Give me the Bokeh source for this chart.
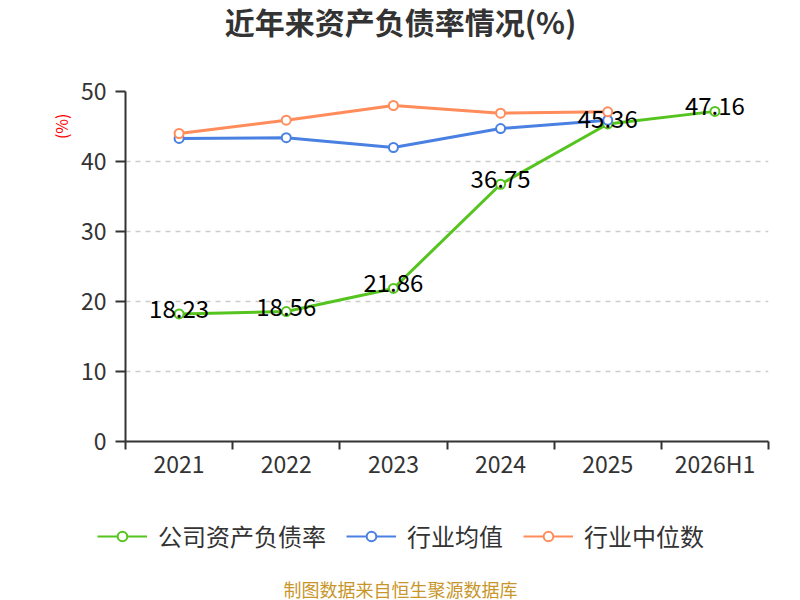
from bokeh.plotting import figure
from bokeh.layouts import column, row
from bokeh.models import (ColumnDataSource, Range1d, FixedTicker, Legend, LegendItem,
                          Title, Label, Spacer)
from bokeh.core.properties import value
from bokeh.embed import file_html
from bokeh.resources import INLINE

categories = ["2021", "2022", "2023", "2024", "2025", "2026H1"]
company = [18.23, 18.56, 21.86, 36.75, 45.36, 47.16]
industry_avg = [43.3, 43.4, 42.0, 44.7, 45.9]
industry_median = [44.0, 45.9, 48.0, 46.9, 47.1]
y_ticks = [0, 10, 20, 30, 40, 50]

series_names = ["公司资产负债率", "行业均值", "行业中位数"]
colors = ["#56c41e", "#4a80e2", "#ff8c5a"]
title_text = "近年来资产负债率情况(%)"
footer_text = "制图数据来自恒生聚源数据库"
FONT = "Noto Sans CJK SC"

def bare_figure(h, xr=(0, 1), yr=(0, 1)):
    f = figure(width=800, height=h, output_backend="svg", toolbar_location=None,
               x_axis_type=None, y_axis_type=None,
               x_range=Range1d(*xr), y_range=Range1d(*yr),
               min_border_left=75, min_border_right=32,
               min_border_top=0, min_border_bottom=0)
    f.outline_line_color = None
    return f

# ---- title strip (frame spans x 75..768) ----
top = bare_figure(60)
top.add_layout(Label(x=325, y=40, x_units="screen", y_units="screen", text=title_text,
                     text_align="center", text_baseline="middle", text_font=FONT,
                     text_font_size="30px", text_font_style="bold", text_color="#333333"))

# ---- main chart ----
p = figure(width=760, height=445, output_backend="svg", toolbar_location=None,
           x_range=Range1d(0, len(categories)), y_range=Range1d(0, 50),
           min_border_left=85, min_border_right=32, min_border_top=31, min_border_bottom=64)
p.outline_line_color = None
p.xgrid.visible = False

centers = [i + 0.5 for i in range(len(categories))]
p.xaxis.ticker = FixedTicker(ticks=centers, minor_ticks=list(range(len(categories) + 1)))
p.xaxis.major_label_overrides = {c: lab for c, lab in zip(centers, categories)}
p.xaxis.major_tick_out = 0
p.xaxis.major_tick_in = 0
p.xaxis.minor_tick_out = 8
p.xaxis.minor_tick_in = 0
p.xaxis.minor_tick_line_color = "#333333"
p.xaxis.minor_tick_line_width = 2
p.xaxis.major_label_standoff = -4

p.yaxis.ticker = FixedTicker(ticks=y_ticks)
p.yaxis.major_tick_out = 10
p.yaxis.major_tick_in = 0
p.yaxis.minor_tick_out = 0
p.yaxis.minor_tick_in = 0
p.yaxis.major_label_standoff = 9
p.ygrid.ticker = FixedTicker(ticks=y_ticks[1:])
p.ygrid.grid_line_color = "#cccccc"
p.ygrid.grid_line_dash = "5 5"
p.ygrid.grid_line_width = 1.3

for ax in (p.xaxis, p.yaxis):
    ax.axis_line_color = "#333333"
    ax.axis_line_width = 2
    ax.major_tick_line_color = "#333333"
    ax.major_tick_line_width = 2
    ax.major_label_text_font = FONT
    ax.major_label_text_font_size = "23px"
    ax.major_label_text_color = "#333333"

p.add_layout(Title(text="(%)", align="right", offset=22, text_font=FONT, text_font_size="16px",
                   text_font_style="normal", text_color="red"), "left")

all_vals = [company, industry_avg, industry_median]
sources = []
for vals, color in zip(all_vals, colors):
    src = ColumnDataSource(dict(x=centers[:len(vals)], y=vals))
    sources.append(src)
    p.line("x", "y", source=src, line_width=3, line_color=color)
    p.scatter("x", "y", source=src, size=9, fill_color="white", line_color=color, line_width=2)

lab_src = ColumnDataSource(dict(x=centers, y=company, t=[f"{v:.2f}" for v in company]))
p.text("x", "y", text="t", source=lab_src, text_align="center", text_baseline="middle",
       y_offset=-5, text_font=value(FONT), text_font_size="24px", text_color="black")

# ---- legend + source strip ----
bottom = bare_figure(95, xr=(100, 101), yr=(100, 101))
items = []
for name, src, color in zip(series_names, sources, colors):
    ln = bottom.line("x", "y", source=src, line_width=2, line_color=color)
    mk = bottom.scatter("x", "y", source=src, size=19, fill_color="white",
                        line_color=color, line_width=2)
    items.append(LegendItem(label=name, renderers=[ln, mk]))
legend = Legend(items=items, orientation="horizontal", location=(22, 47),
                glyph_width=50, glyph_height=24, label_height=24, label_standoff=11,
                spacing=20, padding=0, margin=0, border_line_alpha=0,
                background_fill_alpha=0, label_text_font=FONT,
                label_text_font_size="24px", label_text_color="#333333",
                label_text_baseline="middle")
bottom.add_layout(legend)
bottom.add_layout(Label(x=325, y=12, x_units="screen", y_units="screen", text=footer_text,
                        text_align="center", text_baseline="middle", text_font=FONT,
                        text_font_size="18px", text_color="#c8962a"))

layout = column(top, row(Spacer(width=40, height=445), p, spacing=0), bottom, spacing=0)
open("out.html", "w").write(file_html(layout, INLINE))
